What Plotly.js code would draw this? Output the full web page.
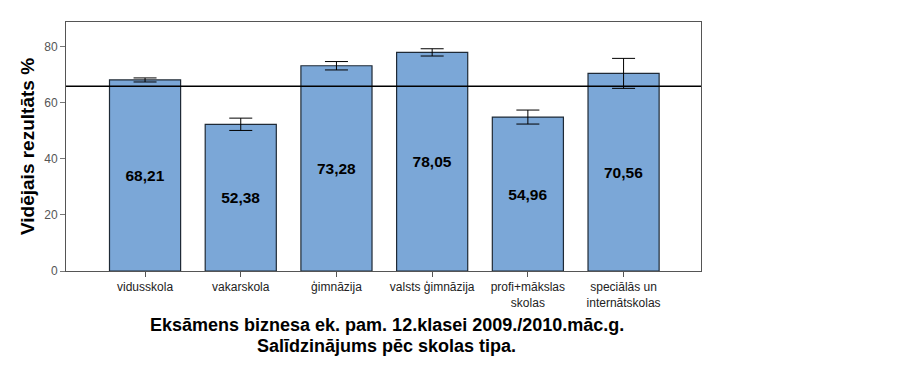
<!DOCTYPE html>
<html>
<head>
<meta charset="utf-8">
<script src="https://cdn.plot.ly/plotly-3.0.1.min.js"></script>
<style>
  html, body { margin: 0; padding: 0; background: #fff; }
  #chart { width: 923px; height: 367px; }
</style>
</head>
<body>
<div id="chart"></div>
<script>
const categories = ["vidusskola", "vakarskola", "ģimnāzija", "valsts ģimnāzija", "profi+mākslas<br>skolas", "speciālās un<br>internātskolas"];
const means = [68.21, 52.38, 73.28, 78.05, 54.96, 70.56];
const errors = [0.72, 2.2, 1.5, 1.3, 2.5, 5.35];
const referenceMean = 66.0;
const yTicks = [0, 20, 40, 60, 80];
const titleLines = ["Eksāmens biznesa ek. pam. 12.klasei 2009./2010.māc.g.", "Salīdzinājums pēc skolas tipa."];

const labels = means.map(v => v.toFixed(2).replace('.', ','));
const xIdx = categories.map((c, i) => i);

const trace = {
  type: 'bar',
  x: xIdx,
  y: means,
  width: 0.743,
  marker: { color: '#7ba7d7', line: { color: '#1f2a36', width: 1.2 } },
  text: labels,
  textposition: 'inside',
  insidetextanchor: 'middle',
  textangle: 0,
  textfont: { family: 'Liberation Sans, Arial, sans-serif', size: 15.5, color: '#000', weight: 'bold' },
  error_y: { type: 'data', array: errors, visible: true, color: '#000', thickness: 1, width: 11.5 },
  hoverinfo: 'none'
};

const layout = {
  width: 923,
  height: 367,
  margin: { l: 66, r: 222, t: 22, b: 96 },
  paper_bgcolor: '#fff',
  plot_bgcolor: '#fff',
  showlegend: false,
  font: { family: 'Liberation Sans, Arial, sans-serif', size: 12, color: '#222' },
  xaxis: {
    range: [-0.826, 5.809],
    tickmode: 'array',
    tickvals: xIdx,
    ticktext: categories,
    ticks: 'outside',
    ticklen: 5,
    tickcolor: '#555',
    showline: true,
    linecolor: '#555',
    linewidth: 1,
    mirror: true,
    showgrid: false,
    zeroline: false,
    tickfont: { size: 12, color: '#222' }
  },
  yaxis: {
    range: [0, 88.9],
    tickmode: 'array',
    tickvals: yTicks,
    ticks: 'outside',
    ticklen: 5,
    tickcolor: '#777',
    showline: true,
    linecolor: '#555',
    linewidth: 1,
    mirror: true,
    showgrid: false,
    zeroline: false,
    tickfont: { size: 12, color: '#555' },
    title: { text: 'Vidējais rezultāts %', font: { size: 19, color: '#000', weight: 'bold' }, standoff: 4 }
  },
  shapes: [{
    type: 'line', xref: 'paper', yref: 'y', x0: 0, x1: 1, y0: referenceMean, y1: referenceMean,
    line: { color: '#000', width: 1.5 }, layer: 'above'
  }],
  annotations: [
    {
      xref: 'paper', yref: 'paper', x: 0.5055, y: (271 - 325) / 249, xanchor: 'center', yanchor: 'middle',
      text: titleLines[0], showarrow: false,
      font: { size: 18, color: '#000', weight: 'bold' }
    },
    {
      xref: 'paper', yref: 'paper', x: 0.5055, y: (271 - 346) / 249, xanchor: 'center', yanchor: 'middle',
      text: titleLines[1], showarrow: false,
      font: { size: 18, color: '#000', weight: 'bold' }
    }
  ]
};

Plotly.newPlot('chart', [trace], layout, { displayModeBar: false, staticPlot: true });
</script>
</body>
</html>
